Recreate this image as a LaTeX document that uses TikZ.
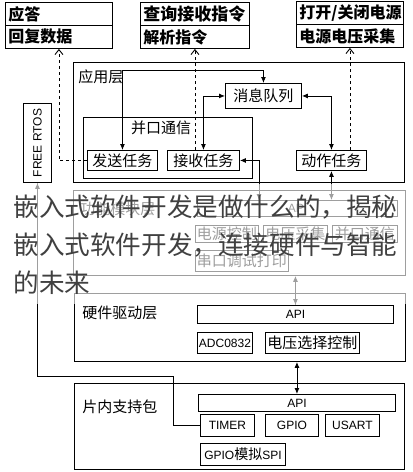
\documentclass[tikz,border=0pt]{standalone}
\usepackage{fontspec}
\setmainfont{Liberation Sans}
\newfontfamily\cjk{Noto Sans CJK SC}
\usepackage{tikz}
\usetikzlibrary{arrows.meta}

\tikzset{
  layer/.style={draw, anchor=north west, inner sep=0pt},
  task/.style={draw, anchor=north west, inner sep=0pt, font=\cjk\fontsize{15}{18}\selectfont},
  part/.style={draw, anchor=north west, inner sep=0pt, font=\fontsize{12}{14}\selectfont},
  topbox/.style={draw, anchor=north west, inner xsep=3pt, inner ysep=0pt, text width=101pt, align=left, minimum height=23pt, font=\cjk\bfseries\fontsize{16}{18}\selectfont},
  lbl/.style={anchor=west, inner sep=0pt, font=\cjk\fontsize{15}{18}\selectfont},
  link/.style={{Latex[length=6pt,width=5pt]}-{Latex[length=6pt,width=5pt]}},
  uplink/.style={-{Latex[length=6pt,width=5pt]}},
  req/.style={dashed, -{Straight Barb[length=5pt,width=8pt]}},
  over/.style={anchor=west, inner sep=0pt, font=\cjk\fontsize{25.6}{30}\selectfont, text=black!75},
}

\begin{document}
\begin{tikzpicture}[x=1pt, y=-1pt, line width=.9pt]
    \useasboundingbox (0,0) rectangle (413,472);

    % draw top request boxes
    \node[topbox] (ack) at (5,2) {应答};
    \node[topbox] (reply) at (5,25) {回复数据};
    \node[topbox, text width=103pt, font=\cjk\bfseries\fontsize{17}{18}\selectfont] (query) at (140,2) {查询接收指令};
    \node[topbox, text width=103pt] (parse) at (140,25) {解析指令};
    \node[topbox] (power) at (296,1) {打开/关闭电源};
    \node[topbox] (sample) at (296,24) {电源电压采集};

    % draw application layer
    \node[layer, minimum width=331pt, minimum height=120pt] (app) at (73,62) {};
    \node[lbl] (applbl) at (78,77) {应用层};
    \node[layer, minimum width=169pt, minimum height=61pt] (par) at (83,117) {};
    \node[lbl, anchor=center] (parlbl) at (161,128) {并口通信};
    \node[task, minimum width=76pt, minimum height=25pt] (queue) at (225,83) {消息队列};
    \node[task, minimum width=70pt, minimum height=20pt] (send) at (87,150) {发送任务};
    \node[task, minimum width=72pt, minimum height=20pt] (recv) at (167,150) {接收任务};
    \node[task, minimum width=70pt, minimum height=20pt] (act) at (296,150) {动作任务};
    \node[part, minimum width=28pt, minimum height=79pt] (rtos) at (23,103) {\rotatebox{90}{FREE RTOS}};

    % draw function module layer
    \node[layer, minimum width=332pt, minimum height=85pt] (mid) at (73,190) {};
    \node[lbl] (midlbl) at (80,209) {功能模块层};
    \node[part, minimum width=200pt, minimum height=16pt] (midapi) at (197,200) {API};
    \node[task, minimum width=63pt, minimum height=17pt] (pwr) at (195,225) {电源控制};
    \node[task, minimum width=64pt, minimum height=17pt] (volt) at (263,225) {电压采集};
    \node[task, minimum width=65pt, minimum height=17pt] (pport) at (332,225) {并口通信};
    \node[task, minimum width=93pt, minimum height=21pt] (uart) at (195,250) {串口调试打印};
    \coordinate (rx) at (259,200);

    % draw hardware driver layer
    \node[layer, minimum width=331pt, minimum height=68pt] (hw) at (74,293) {};
    \node[lbl] (hwlbl) at (82,313) {硬件驱动层};
    \node[part, minimum width=196pt, minimum height=18pt] (hwapi) at (197,305) {API};
    \node[part, minimum width=55pt, minimum height=21pt] (adc) at (197,332) {ADC0832};
    \node[task, minimum width=94pt, minimum height=21pt] (vsel) at (265,332) {电压选择控制};

    % draw chip support layer
    \node[layer, minimum width=330pt, minimum height=86pt] (bsp) at (74,383) {};
    \node[lbl] (bsplbl) at (82,407) {片内支持包};
    \node[part, minimum width=197pt, minimum height=17pt] (bspapi) at (198,394) {API};
    \node[part, minimum width=54pt, minimum height=22pt] (timer) at (200,414) {TIMER};
    \node[part, minimum width=53pt, minimum height=22pt] (gpio) at (265,414) {GPIO};
    \node[part, minimum width=54pt, minimum height=22pt] (usart) at (325,414) {USART};
    \node[part, minimum width=85pt, minimum height=22pt] (spi) at (200,443) {GPIO{\cjk\fontsize{14}{14}\selectfont 模拟}SPI};

    % draw links between tasks and layers
    \draw[link] (send.north) -- ++(0,-80) -| (queue.north);
    \draw[link] (recv.north) |- (queue.west);
    \draw[link] (queue.east) -| (act.north);
    \draw[link] (recv.east) -| (rx);
    \draw[link] (act.south) -- (act.south |- midapi.north);
    \draw[link] (hwapi.north |- mid.south) -- (hwapi.north);
    \draw[link] (bspapi.north |- hw.south) -- (bspapi.north);
    \draw[uplink] (timer.west) -- ++(-27,0) -- ++(0,-49) -| (rtos.south);

    % draw dashed request lines
    \draw[req] (send.west) -| (reply.south);
    \draw[req] (parse.south |- recv.north) -- (parse.south);
    \draw[req] (sample.south |- act.north) -- (sample.south);

    % faded band and caption over it
    \fill[white, opacity=.62] (0,183.5) rectangle (413,304);
    \node[over] (ov1) at (13,207) {嵌入式软件开发是做什么的，揭秘};
    \node[over] (ov2) at (13,245) {嵌入式软件开发，连接硬件与智能};
    \node[over] (ov3) at (13,283) {的未来};
\end{tikzpicture}
\end{document}
